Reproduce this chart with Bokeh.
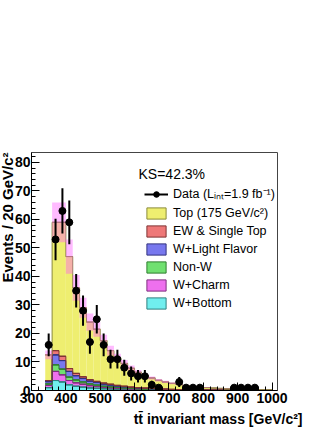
import numpy as np
from bokeh.plotting import figure
from bokeh.models import (Range1d, SingleIntervalTicker, ColumnDataSource, Label,
                          Legend, LegendItem, Title)
from bokeh.embed import file_html
from bokeh.resources import INLINE

# ---- data (20 GeV bins, centers) ----
mass = [350, 370, 390, 410, 430, 450, 470, 490, 510, 530, 550, 570, 590, 610, 630,
        650, 670, 690, 710, 730, 750, 770, 790, 810, 830, 850, 870, 890, 910, 930,
        950, 970, 990]
data_counts = [16, 53, 63, 59, 35, 28, 17, 25, 16, 11, 11, 8, 6, 5, 5,
               2, 1, 0, 0, 3, 1, 1, 1, 0, 0, 0, 0, 1, 1, 1,
               1, 0, 0]
top = [9.0, 45.0, 47.0, 39.3, 30.0, 24.2, 20.2, 18.3, 14.9, 11.8, 9.7, 8.0, 6.6, 5.4, 4.45,
       3.7, 3.0, 2.5, 2.1, 1.75, 1.4, 1.15, 1.0, 0.85, 0.7, 0.6, 0.5, 0.42, 0.36, 0.3,
       0.25, 0.2, 0.17]
ew_single_top = [0.4, 1.5, 1.5, 1.0, 0.8, 0.6, 0.5, 0.4, 0.35, 0.3, 0.25, 0.2, 0.15, 0.15, 0.13,
                 0.11, 0.09, 0.08, 0.07, 0.06, 0.05, 0.04, 0.03, 0.03, 0.02, 0.02, 0.02, 0.02, 0.01, 0.01,
                 0.01, 0.01, 0.01]
w_light = [0.8, 3.5, 3.0, 2.0, 1.5, 1.2, 1.0, 0.9, 0.75, 0.6, 0.5, 0.4, 0.3, 0.25, 0.22,
           0.18, 0.15, 0.12, 0.1, 0.08, 0.07, 0.06, 0.05, 0.04, 0.04, 0.03, 0.03, 0.02, 0.02, 0.02,
           0.02, 0.01, 0.01]
non_w = [0.5, 2.3, 2.0, 1.2, 1.0, 0.8, 0.6, 0.5, 0.4, 0.35, 0.3, 0.25, 0.2, 0.15, 0.13,
         0.1, 0.08, 0.07, 0.06, 0.05, 0.04, 0.03, 0.03, 0.02, 0.02, 0.02, 0.01, 0.01, 0.01, 0.01,
         0.01, 0.01, 0.01]
w_charm = [0.8, 3.2, 2.5, 1.5, 1.2, 1.0, 0.8, 0.6, 0.5, 0.45, 0.35, 0.3, 0.25, 0.2, 0.17,
           0.14, 0.12, 0.1, 0.08, 0.07, 0.06, 0.05, 0.04, 0.04, 0.03, 0.03, 0.02, 0.02, 0.02, 0.01,
           0.01, 0.01, 0.01]
w_bottom = [1.0, 3.5, 3.0, 2.0, 1.5, 1.2, 0.9, 0.8, 0.6, 0.5, 0.4, 0.35, 0.3, 0.25, 0.2,
            0.17, 0.14, 0.12, 0.1, 0.08, 0.07, 0.06, 0.05, 0.04, 0.04, 0.03, 0.03, 0.02, 0.02, 0.02,
            0.02, 0.01, 0.01]
mc_unc = [1.5, 7.0, 7.0, 6.0, 4.5, 3.5, 3.0, 2.6, 2.1, 1.7, 1.4, 1.2, 1.0, 0.8, 0.7,
          0.55, 0.45, 0.4, 0.3, 0.25, 0.2, 0.18, 0.15, 0.12, 0.1, 0.09, 0.08, 0.07, 0.06, 0.05,
          0.04, 0.04, 0.03]
bin_width = 20
x_ticks_interval = 100
y_ticks_interval = 10

names = ["W+Bottom", "W+Charm", "Non-W", "W+Light Flavor", "EW & Single Top", "Top (175 GeV/c²)"]
keys = ["wb", "wc", "nonw", "wlf", "ew", "top"]
fills = ["#70eeee", "#ee70ee", "#70e070", "#7878ee", "#ee7878", "#eeee70"]
lines = ["#2f7f7f", "#7f2f7f", "#2f7f2f", "#33337f", "#7f3333", "#8a8a3a"]
layers = [w_bottom, w_charm, non_w, w_light, ew_single_top, top]

src = ColumnDataSource(dict(x=mass, wb=w_bottom, wc=w_charm, nonw=non_w, wlf=w_light,
                            ew=ew_single_top, top=top))

p = figure(width=332, height=430, x_range=Range1d(300, 1016), y_range=Range1d(0, 83.5),
           output_backend="svg", toolbar_location=None,
           min_border_left=30, min_border_right=55, min_border_top=152, min_border_bottom=40)
p.xgrid.visible = False
p.ygrid.visible = False
p.outline_line_color = "#444444"
p.background_fill_color = "white"
p.border_fill_color = "white"

# stacked fills (no per-bar outlines), then ROOT-like step outlines
p.vbar_stack(keys, x="x", width=bin_width, source=src, fill_color=fills, line_color=None)
x = np.array(mass, dtype=float)
edges = np.append(x - bin_width / 2, x[-1] + bin_width / 2)
cum = np.cumsum(np.array(layers), axis=0)
proxies = []
for i in range(len(layers)):
    p.step(x=edges, y=np.append(cum[i], cum[i][-1]), mode="after",
           line_color=lines[i], line_width=1)
    # zero-height bars on each layer's top edge: coincide with the outline, carry legend style
    proxies.append(p.vbar(x=x, bottom=cum[i], top=cum[i], width=bin_width,
                          fill_color=fills[i], line_color=lines[i], line_width=1))

total = cum[-1]
unc = np.array(mc_unc)
p.quad(left=x - bin_width / 2, right=x + bin_width / 2, bottom=total - unc, top=total + unc,
       fill_color="#ff55ff", fill_alpha=0.4, line_color=None)

# data points
dc = np.array(data_counts, dtype=float)
m = dc > 0
err = np.sqrt(dc[m])
p.segment(x0=x[m], x1=x[m], y0=dc[m] - err, y1=dc[m] + err, line_color="black", line_width=2)
hbar = p.segment(x0=x[m] - bin_width / 2, x1=x[m] + bin_width / 2, y0=dc[m], y1=dc[m],
                 line_color="black", line_width=2)
pts = p.scatter(x[m], dc[m], marker="circle", size=7, fill_color="black", line_color="black")

# axes
for ax, interval in ((p.xaxis[0], x_ticks_interval), (p.yaxis[0], y_ticks_interval)):
    ax.ticker = SingleIntervalTicker(interval=interval, num_minor_ticks=5)
    ax.major_tick_in = 8
    ax.major_tick_out = 0
    ax.minor_tick_in = 4
    ax.minor_tick_out = 0
    ax.major_label_text_font = "Liberation Sans"
    ax.major_label_text_font_style = "bold"
    ax.major_label_text_font_size = "14px"
    ax.major_label_text_color = "black"
    ax.axis_line_color = "black"
    ax.major_tick_line_color = "black"
    ax.minor_tick_line_color = "black"
p.xaxis.major_label_standoff = 2
p.yaxis.major_label_standoff = 1

p.add_layout(Title(text="Events / 20 GeV/c²", align="right", standoff=-8,
                   text_font="Liberation Sans", text_font_style="bold",
                   text_font_size="15px", text_color="black"), "left")
p.add_layout(Title(text="tt\u0304 invariant mass [GeV/c²]", align="right", standoff=6,
                   offset=-25, text_font="Liberation Sans", text_font_style="bold",
                   text_font_size="14px", text_color="black"), "below")
p.add_layout(Label(x=107, y=217, x_units="screen", y_units="screen",
                   text="KS=42.3%", text_align="left", text_baseline="middle",
                   text_font="Liberation Sans", text_font_size="14px", text_color="black"))

items = [LegendItem(label="Data (Lᵢₙₜ=1.9 fb⁻¹)", renderers=[hbar, pts])]
for i in [5, 4, 3, 2, 1, 0]:
    items.append(LegendItem(label=names[i], renderers=[proxies[i]]))
legend = Legend(items=items, location=(113, 80), glyph_width=24, glyph_height=14,
                label_height=14, label_standoff=5, spacing=4, padding=0, margin=0,
                border_line_alpha=0, background_fill_alpha=0,
                label_text_font="Liberation Sans", label_text_font_size="12.5px",
                label_text_color="black")
p.add_layout(legend)

open("out.html", "w").write(file_html(p, INLINE))
